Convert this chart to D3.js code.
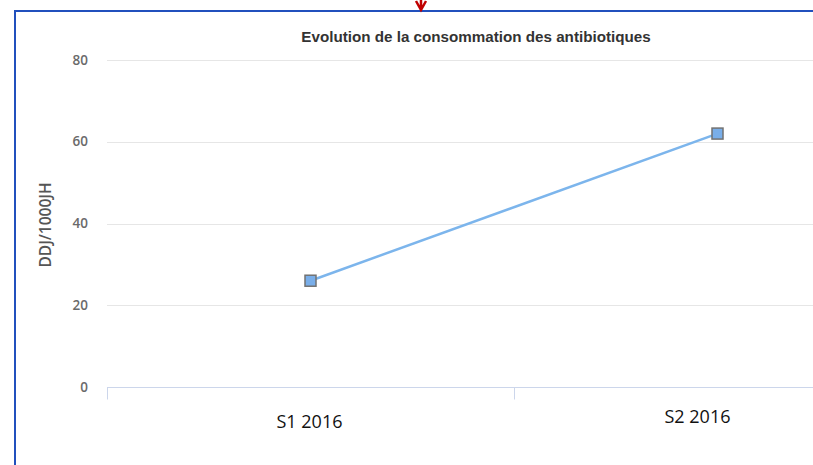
<!DOCTYPE html>
<html>
<head>
<meta charset="utf-8">
<script src="https://cdn.jsdelivr.net/npm/d3@7"></script>
<style>
  body { margin: 0; background: #fff; }
  svg { display: block; }
</style>
</head>
<body>
<svg id="chart"></svg>
<script>
const categories = ['S1 2016', 'S2 2016'];
const values = [26, 62];
const yTicks = [0, 20, 40, 60, 80];
const chartTitle = 'Evolution de la consommation des antibiotiques';
const yTitle = 'DDJ/1000JH';

const svgWidth = 813, svgHeight = 465;
const plot = { left: 107, right: 921, top: 60, bottom: 387 };
// label nudges seen in the screenshot (label x offset, baseline)
const labelDx = [-1, -20];
const labelY = [428, 423];

const svg = d3.select('#chart')
  .attr('width', svgWidth)
  .attr('height', svgHeight);

// frame of the slide
svg.append('path')
  .attr('d', 'M15,' + svgHeight + ' V11 H' + svgWidth)
  .attr('fill', 'none')
  .attr('stroke', '#2150bd')
  .attr('stroke-width', 2);
svg.append('path')
  .attr('d', 'M416,1 L421,10 L426,1 M421,0 V10')
  .attr('fill', 'none')
  .attr('stroke', '#c00000')
  .attr('stroke-width', 2.5);

const x = d3.scaleBand()
  .domain(categories)
  .range([plot.left, plot.right]);
const y = d3.scaleLinear()
  .domain([0, 80])
  .range([plot.bottom, plot.top]);

// grid
svg.append('g')
  .selectAll('line')
  .data(yTicks.filter(d => d > 0))
  .enter()
  .append('line')
  .attr('x1', plot.left)
  .attr('x2', svgWidth)
  .attr('y1', d => Math.round(y(d)) + 0.5)
  .attr('y2', d => Math.round(y(d)) + 0.5)
  .attr('stroke', '#e6e6e6');

// y tick labels
svg.append('g')
  .selectAll('text')
  .data(yTicks)
  .enter()
  .append('text')
  .attr('x', 88)
  .attr('y', d => y(d) + 4.5)
  .attr('text-anchor', 'end')
  .attr('font-family', 'Open Sans, sans-serif')
  .attr('font-size', 13.5)
  .attr('font-weight', 600)
  .attr('fill', '#6a6a6a')
  .text(d => d);

// x axis
const xAxis = d3.axisBottom(x).tickSize(0).tickFormat('');
const gX = svg.append('g')
  .attr('transform', 'translate(0,' + (plot.bottom + 0.5) + ')')
  .call(xAxis);
gX.select('.domain').remove();
gX.append('line')
  .attr('x1', plot.left).attr('x2', svgWidth)
  .attr('stroke', '#ccd6eb');
gX.selectAll('.sep')
  .data(categories)
  .enter()
  .append('line')
  .attr('class', 'sep')
  .attr('x1', d => Math.round(x(d)) + 0.5)
  .attr('x2', d => Math.round(x(d)) + 0.5)
  .attr('y1', 0)
  .attr('y2', 12)
  .attr('stroke', '#ccd6eb');

// category labels
svg.append('g')
  .selectAll('text')
  .data(categories)
  .enter()
  .append('text')
  .attr('x', (d, i) => x(d) + x.bandwidth() / 2 + labelDx[i])
  .attr('y', (d, i) => labelY[i])
  .attr('text-anchor', 'middle')
  .attr('font-family', 'Open Sans, sans-serif')
  .attr('font-size', 18)
  .attr('fill', '#111')
  .text(d => d);

// line
const line = d3.line()
  .x((d, i) => x(categories[i]) + x.bandwidth() / 2)
  .y(d => y(d));
svg.append('path')
  .datum(values)
  .attr('d', line)
  .attr('fill', 'none')
  .attr('stroke', '#7cb5ec')
  .attr('stroke-width', 2.5);

svg.append('g')
  .selectAll('rect')
  .data(values)
  .enter()
  .append('rect')
  .attr('x', (d, i) => x(categories[i]) + x.bandwidth() / 2 - 5.5)
  .attr('y', d => y(d) - 5.5)
  .attr('width', 11)
  .attr('height', 11)
  .attr('fill', '#79aee9')
  .attr('stroke', '#727272')
  .attr('stroke-width', 1.5);

// titles
svg.append('text')
  .attr('x', 476)
  .attr('y', 42)
  .attr('text-anchor', 'middle')
  .attr('font-family', 'Liberation Sans, Arial, sans-serif')
  .attr('font-weight', 'bold')
  .attr('font-size', 15.2)
  .attr('fill', '#333')
  .text(chartTitle);

svg.append('text')
  .attr('transform', 'translate(51,225) rotate(-90)')
  .attr('text-anchor', 'middle')
  .attr('font-family', 'Open Sans, sans-serif')
  .attr('font-size', 15.5)
  .attr('font-weight', 600)
  .attr('fill', '#555')
  .text(yTitle);
</script>
</body>
</html>
